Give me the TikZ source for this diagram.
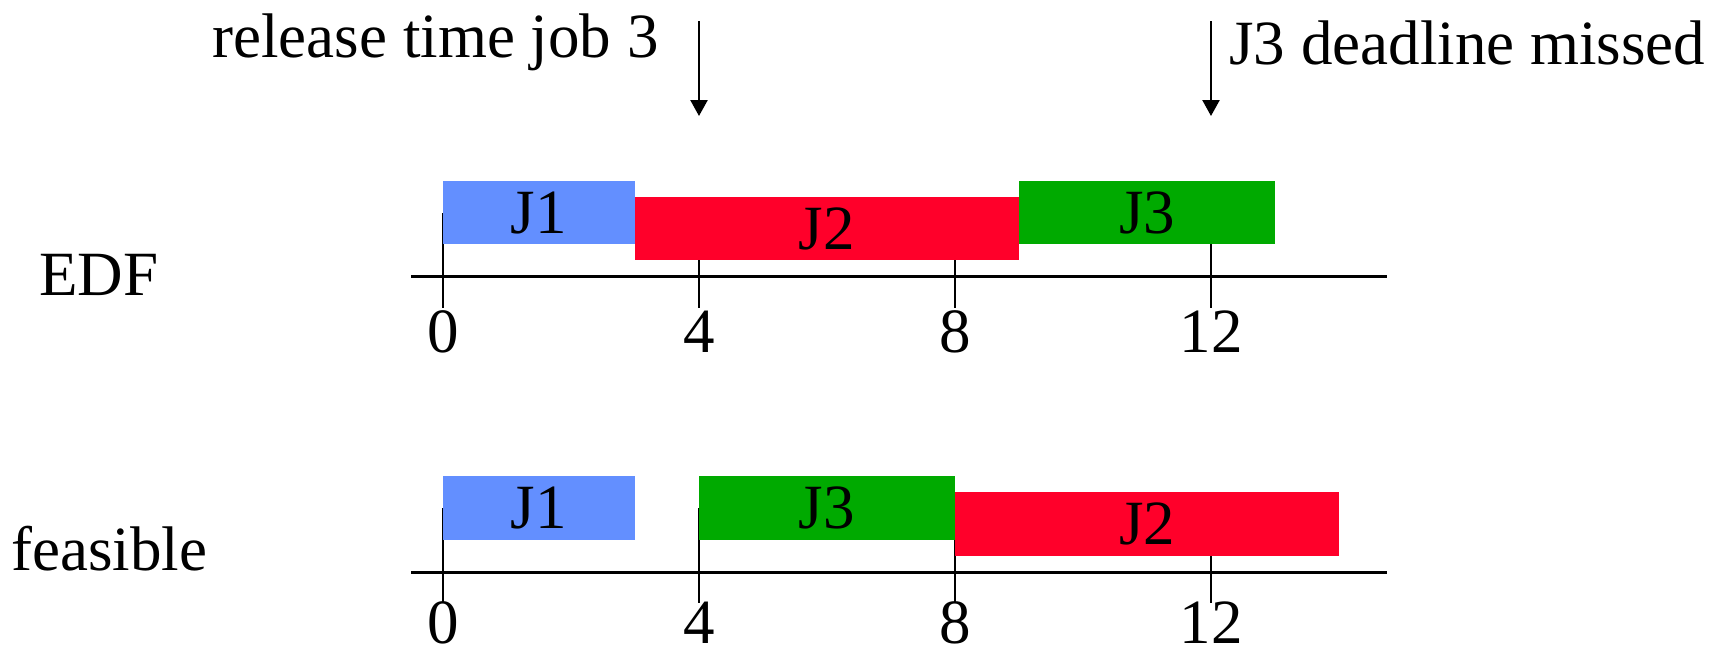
\documentclass[tikz,border=0pt]{standalone}
\usepackage{fontspec}
\setmainfont{Liberation Serif}
\usetikzlibrary{arrows.meta}

\definecolor{jobblue}{RGB}{99,143,255}
\definecolor{jobred}{RGB}{255,0,42}
\definecolor{jobgreen}{RGB}{0,170,0}

\begin{document}
\begin{tikzpicture}[x=0.5pt, y=-0.5pt,
  every node/.style={font=\fontsize{31.5}{38}\selectfont, inner sep=0pt},
  axisline/.style={line width=1.3pt},
  tickline/.style={line width=1.1pt},
  jobbox/.style={rectangle, draw=none, minimum height=31.75pt},
  pointer/.style={line width=1.2pt, -{Triangle[length=8pt, width=8.5pt]}},
  ticklabel/.style={anchor=base},
  rowlabel/.style={anchor=base west}
]
\useasboundingbox (0,0) rectangle (1726,650);

% ---------------- EDF schedule ----------------
\foreach \t in {0,4,8,12}{
  \draw[tickline] ({443+64*\t},213) -- ({443+64*\t},308);
  \node[ticklabel] (edf-t\t) at ({443+64*\t},352.5) {\t};
}
\node[jobbox, fill=jobblue,  minimum width=96pt]  (edf-j1) at (539,212.7) {J1};
\node[jobbox, fill=jobred,   minimum width=192pt] (edf-j2) at (827,228.5) {J2};
\node[jobbox, fill=jobgreen, minimum width=128pt] (edf-j3) at (1147,212.7) {J3};
\coordinate (edf-a) at (411,276.7);
\coordinate (edf-b) at (1387,276.7);
\draw[axisline] (edf-a) -- (edf-b);
\node[rowlabel] (edf-name) at (39,295) {EDF};

% ---------------- feasible schedule ----------------
\foreach \t in {0,4,8,12}{
  \draw[tickline] ({443+64*\t},508.3) -- ({443+64*\t},603.3);
  \node[ticklabel] (fea-t\t) at ({443+64*\t},643.5) {\t};
}
\node[jobbox, fill=jobblue,  minimum width=96pt]  (fea-j1) at (539,508) {J1};
\node[jobbox, fill=jobgreen, minimum width=128pt] (fea-j3) at (827,508) {J3};
\node[jobbox, fill=jobred,   minimum width=192pt] (fea-j2) at (1147,524) {J2};
\coordinate (fea-a) at (411,572.3);
\coordinate (fea-b) at (1387,572.3);
\draw[axisline] (fea-a) -- (fea-b);
\node[rowlabel] (fea-name) at (11,570) {feasible};

% ---------------- annotations ----------------
\coordinate (rel-top) at (699,21);
\coordinate (rel-tip) at (699,116);
\draw[pointer] (rel-top) -- (rel-tip);
\node[anchor=base east] (rel-text) at (659,57) {release time job 3};

\coordinate (dl-top) at (1211,21);
\coordinate (dl-tip) at (1211,116);
\draw[pointer] (dl-top) -- (dl-tip);
\node[anchor=base west] (dl-text) at (1229,64) {J3 deadline missed};
\end{tikzpicture}
\end{document}
